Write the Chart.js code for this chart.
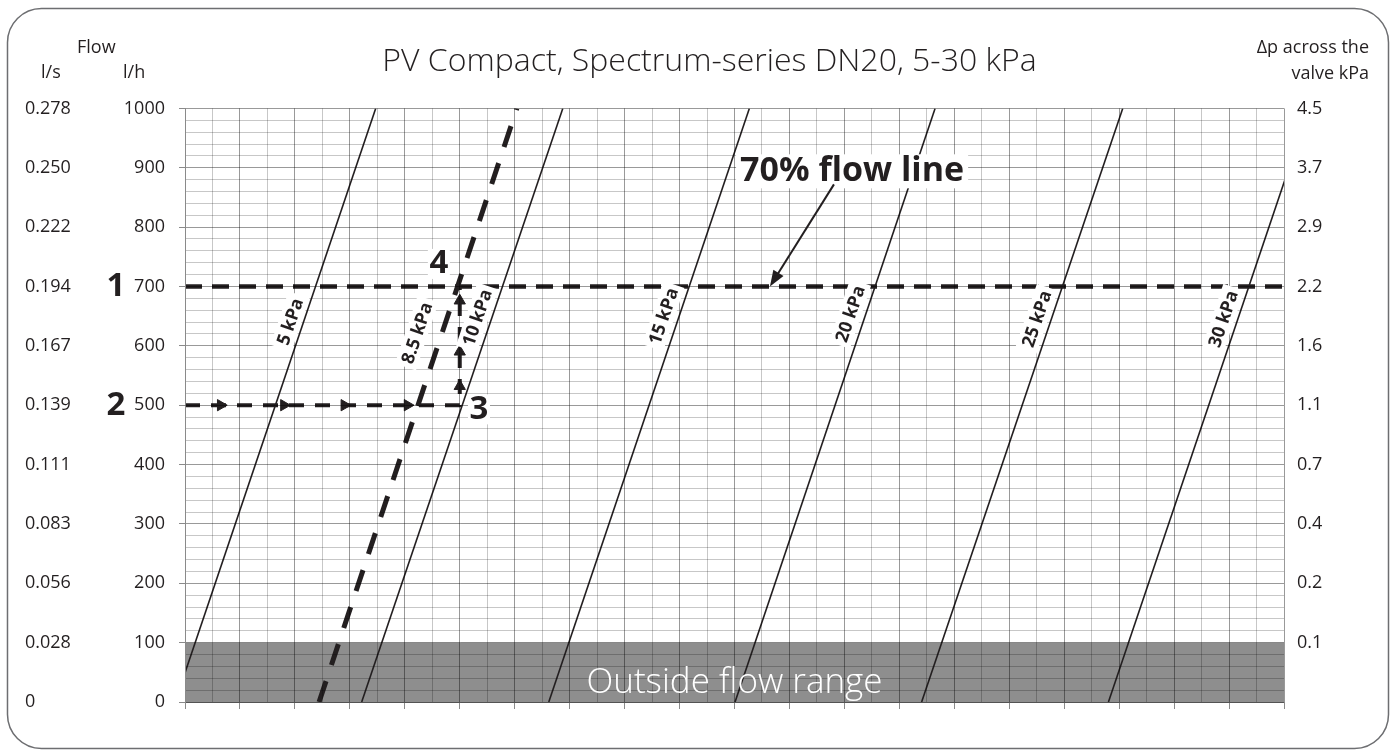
<!DOCTYPE html>
<html>
<head>
<meta charset="utf-8">
<title>PV Compact DN20</title>
<script src="https://cdn.jsdelivr.net/npm/chart.js@4.4.1/dist/chart.umd.min.js"></script>
<style>
  html, body { margin: 0; padding: 0; background: #fff; overflow: hidden; }
  canvas { display: block; }
</style>
</head>
<body>
<canvas id="pvChart" width="1394" height="751"></canvas>
<script>
// flow axis (l/h) and the matching l/s and kPa labels
const lsLabels = ['0', '0.028', '0.056', '0.083', '0.111', '0.139', '0.167', '0.194', '0.222', '0.250', '0.278'];
const dpLabels = ['', '0.1', '0.2', '0.4', '0.7', '1.1', '1.6', '2.2', '2.9', '3.7', '4.5'];

// setpoint lines, position on the unlabelled x grid at 0 l/h and at 1000 l/h
const setpoints = ['5 kPa', '8.5 kPa', '10 kPa', '15 kPa', '20 kPa', '25 kPa', '30 kPa'];
const xAtZero = [-0.36, 4.88, 6.43, 13.24, 20.02, 26.81, 33.61];
const xAtMax = [6.94, 12.08, 13.75, 20.54, 27.30, 34.13, 40.91];

const flowLine = 700;      // 70% flow line
const rangeLimit = 100;    // below this: outside flow range

// worked example: 500 l/h across, then up to the 70% line
const routeX = [0, 1.3, 3.6, 5.8, 8.1, 10.0, 10.0, 10.0, 10.0, 10.0];
const routeY = [500, 500, 500, 500, 500, 500, 532, 590, 676, 700];
const routeArrows = [1, 2, 3, 4, 6, 7, 8];

const ink = '#231f20';
const font = '"Open Sans", "DejaVu Sans", sans-serif';

// label placement for the setpoint lines (flow where the label sits, gap from line)
const labelFlow = [634, 609, 640, 642, 646, 638, 638];
const labelGap = [13, 24, 14, 15, 15, 14, 14];

const datasets = [];

setpoints.forEach(function(name, i) {
    const dashed = name === '8.5 kPa';
    datasets.push({
        label: name,
        data: [{x: xAtZero[i], y: 0}, {x: xAtMax[i], y: 1000}],
        borderColor: ink,
        borderWidth: dashed ? 5 : 1.6,
        borderDash: dashed ? [22, 17] : [],
        pointRadius: 0,
        clip: 0,
        order: 1
    });
});

datasets.push({
    label: '70% flow',
    data: [{x: 0, y: flowLine}, {x: 40, y: flowLine}],
    borderColor: ink,
    borderWidth: 4.5,
    borderDash: [17, 10],
    pointRadius: 0,
    clip: 0,
    order: 1
});

datasets.push({
    label: 'route',
    data: routeX.map(function(v, i) { return {x: v, y: routeY[i]}; }),
    borderColor: ink,
    borderWidth: 4,
    borderDash: [15, 11],
    pointStyle: 'triangle',
    pointRadius: function(ctx) { return routeArrows.includes(ctx.dataIndex) ? 6.5 : 0; },
    pointRotation: function(ctx) { return ctx.dataIndex < 5 ? 90 : 0; },
    pointBackgroundColor: ink,
    pointBorderColor: ink,
    pointBorderWidth: 1,
    clip: 0,
    order: 1
});

// grey band under the grid
datasets.push({
    label: 'outside',
    data: [{x: 0, y: rangeLimit}, {x: 40, y: rangeLimit}],
    borderWidth: 0,
    pointRadius: 0,
    backgroundColor: '#8e8e8e',
    fill: 'origin',
    order: 10
});

const decorations = {
    id: 'decorations',
    afterDraw: function(chart) {
        const c = chart.ctx;
        const x = chart.scales.x;
        const y = chart.scales.y;

        // frame
        c.save();
        c.strokeStyle = '#6d6e71';
        c.lineWidth = 1.5;
        c.beginPath();
        c.roundRect(7.5, 8.5, 1381, 740, 34);
        c.stroke();

        // header texts
        c.fillStyle = ink;
        c.font = '18px ' + font;
        c.textBaseline = 'middle';
        c.textAlign = 'left';
        c.fillText('Flow', 77, 48);
        c.fillText('l/s', 41, 73);
        c.fillText('l/h', 123, 73);
        c.textAlign = 'right';
        c.fillText('\u0394p across the', 1369, 48);
        c.fillText('valve kPa', 1369, 74);

        // labels along setpoint lines
        setpoints.forEach(function(name, i) {
            const f = labelFlow[i];
            const xv = xAtZero[i] + (xAtMax[i] - xAtZero[i]) * f / 1000;
            const ang = Math.atan2(y.getPixelForValue(1000) - y.getPixelForValue(0),
                x.getPixelForValue(xAtMax[i]) - x.getPixelForValue(xAtZero[i]));
            c.save();
            c.translate(x.getPixelForValue(xv), y.getPixelForValue(f));
            c.rotate(ang);
            c.font = 'bold 18px ' + font;
            const w = c.measureText(name).width;
            c.fillStyle = '#fff';
            c.fillRect(-w / 2 - 4, -labelGap[i] - 11, w + 8, 22);
            c.fillStyle = ink;
            c.textAlign = 'center';
            c.textBaseline = 'middle';
            c.fillText(name, 0, -labelGap[i] + 1);
            c.restore();
        });

        // step numbers
        c.font = 'bold 33px ' + font;
        c.textAlign = 'center';
        c.textBaseline = 'middle';
        c.fillText('1', 116, y.getPixelForValue(flowLine));
        c.fillText('2', 116, y.getPixelForValue(500));
        [['3', 10.7, 493], ['4', 9.24, 738]].forEach(function(n) {
            const px = x.getPixelForValue(n[1]);
            const py = y.getPixelForValue(n[2]);
            c.fillStyle = '#fff';
            c.fillRect(px - 11, py - 15, 22, 30);
            c.fillStyle = ink;
            c.fillText(n[0], px, py);
        });

        // 70% flow line callout
        c.font = 'bold 34px ' + font;
        const tx = x.getPixelForValue(24.28);
        const ty = y.getPixelForValue(894);
        const tw = c.measureText('70% flow line').width;
        c.fillStyle = '#fff';
        c.fillRect(tx - tw / 2 - 4, ty - 17, tw + 8, 34);
        c.fillStyle = ink;
        c.fillText('70% flow line', tx, ty);

        const ax0 = x.getPixelForValue(23.62), ay0 = y.getPixelForValue(872);
        const ax1 = x.getPixelForValue(21.29), ay1 = y.getPixelForValue(flowLine);
        const a = Math.atan2(ay1 - ay0, ax1 - ax0);
        c.strokeStyle = ink;
        c.lineWidth = 2;
        c.beginPath();
        c.moveTo(ax0, ay0);
        c.lineTo(ax1 - 12 * Math.cos(a), ay1 - 12 * Math.sin(a));
        c.stroke();
        c.beginPath();
        c.moveTo(ax1, ay1);
        c.lineTo(ax1 - 16 * Math.cos(a) + 6 * Math.sin(a), ay1 - 16 * Math.sin(a) - 6 * Math.cos(a));
        c.lineTo(ax1 - 16 * Math.cos(a) - 6 * Math.sin(a), ay1 - 16 * Math.sin(a) + 6 * Math.cos(a));
        c.closePath();
        c.fill();

        // band text
        c.font = '300 35px ' + font;
        c.fillStyle = '#fff';
        c.textBaseline = 'alphabetic';
        c.fillText('Outside flow range', (chart.chartArea.left + chart.chartArea.right) / 2, y.getPixelForValue(16));
        c.restore();
    }
};

const gridMajor = 'rgba(0,0,0,0.40)';
const gridMinor = 'rgba(0,0,0,0.22)';

new Chart(document.getElementById('pvChart').getContext('2d'), {
    type: 'line',
    data: { datasets: datasets },
    options: {
        responsive: false,
        animation: false,
        events: [],
        layout: { padding: { left: 25, right: 0, top: 8, bottom: 0 } },
        plugins: {
            legend: { display: false },
            tooltip: { enabled: false },
            title: {
                display: true,
                text: 'PV Compact, Spectrum-series DN20, 5-30 kPa',
                color: ink,
                font: { family: font, size: 32, weight: '300', lineHeight: 1.2 },
                padding: { top: 35, bottom: 27 }
            }
        },
        scales: {
            x: {
                type: 'linear',
                min: 0,
                max: 40,
                ticks: { display: false, stepSize: 1, autoSkip: false },
                grid: {
                    z: 1,
                    drawTicks: true,
                    tickLength: 7,
                    color: function(ctx) { return ctx.tick && ctx.tick.value % 2 === 0 ? gridMajor : gridMinor; },
                    tickColor: function(ctx) { return ctx.tick && ctx.tick.value % 2 === 0 ? '#8a8a8a' : 'rgba(0,0,0,0)'; }
                },
                border: { color: '#8a8a8a', z: 1 },
                afterFit: function(s) { s.height = 49; }
            },
            y: {
                type: 'linear',
                position: 'left',
                weight: 0,
                min: 0,
                max: 1000,
                ticks: {
                    stepSize: 20,
                    autoSkip: false,
                    padding: 14,
                    color: ink,
                    font: { family: font, size: 18 },
                    callback: function(v) { return v % 100 === 0 ? String(v) : ''; }
                },
                grid: {
                    z: 1,
                    tickLength: 6,
                    color: function(ctx) { return ctx.tick && ctx.tick.value % 100 === 0 ? gridMajor : gridMinor; },
                    tickColor: function(ctx) { return ctx.tick && ctx.tick.value % 100 === 0 ? '#8a8a8a' : 'rgba(0,0,0,0)'; }
                },
                border: { color: '#8a8a8a', z: 1 },
                afterFit: function(s) { s.width = 60; }
            },
            ys: {
                type: 'linear',
                position: 'left',
                weight: 1,
                min: 0,
                max: 1000,
                ticks: {
                    stepSize: 100,
                    autoSkip: false,
                    crossAlign: 'far',
                    padding: 0,
                    color: ink,
                    font: { family: font, size: 18 },
                    callback: function(v) { return lsLabels[Math.round(v / 100)]; }
                },
                grid: { drawOnChartArea: false, drawTicks: false },
                border: { display: false },
                afterFit: function(s) { s.width = 100; }
            },
            yr: {
                type: 'linear',
                position: 'right',
                min: 0,
                max: 1000,
                ticks: {
                    stepSize: 100,
                    autoSkip: false,
                    crossAlign: 'near',
                    padding: 13,
                    color: ink,
                    font: { family: font, size: 18 },
                    callback: function(v) { return dpLabels[Math.round(v / 100)]; }
                },
                grid: { drawOnChartArea: false, drawTicks: false },
                border: { display: false },
                afterFit: function(s) { s.width = 110; }
            }
        }
    },
    plugins: [decorations]
});
</script>
</body>
</html>
